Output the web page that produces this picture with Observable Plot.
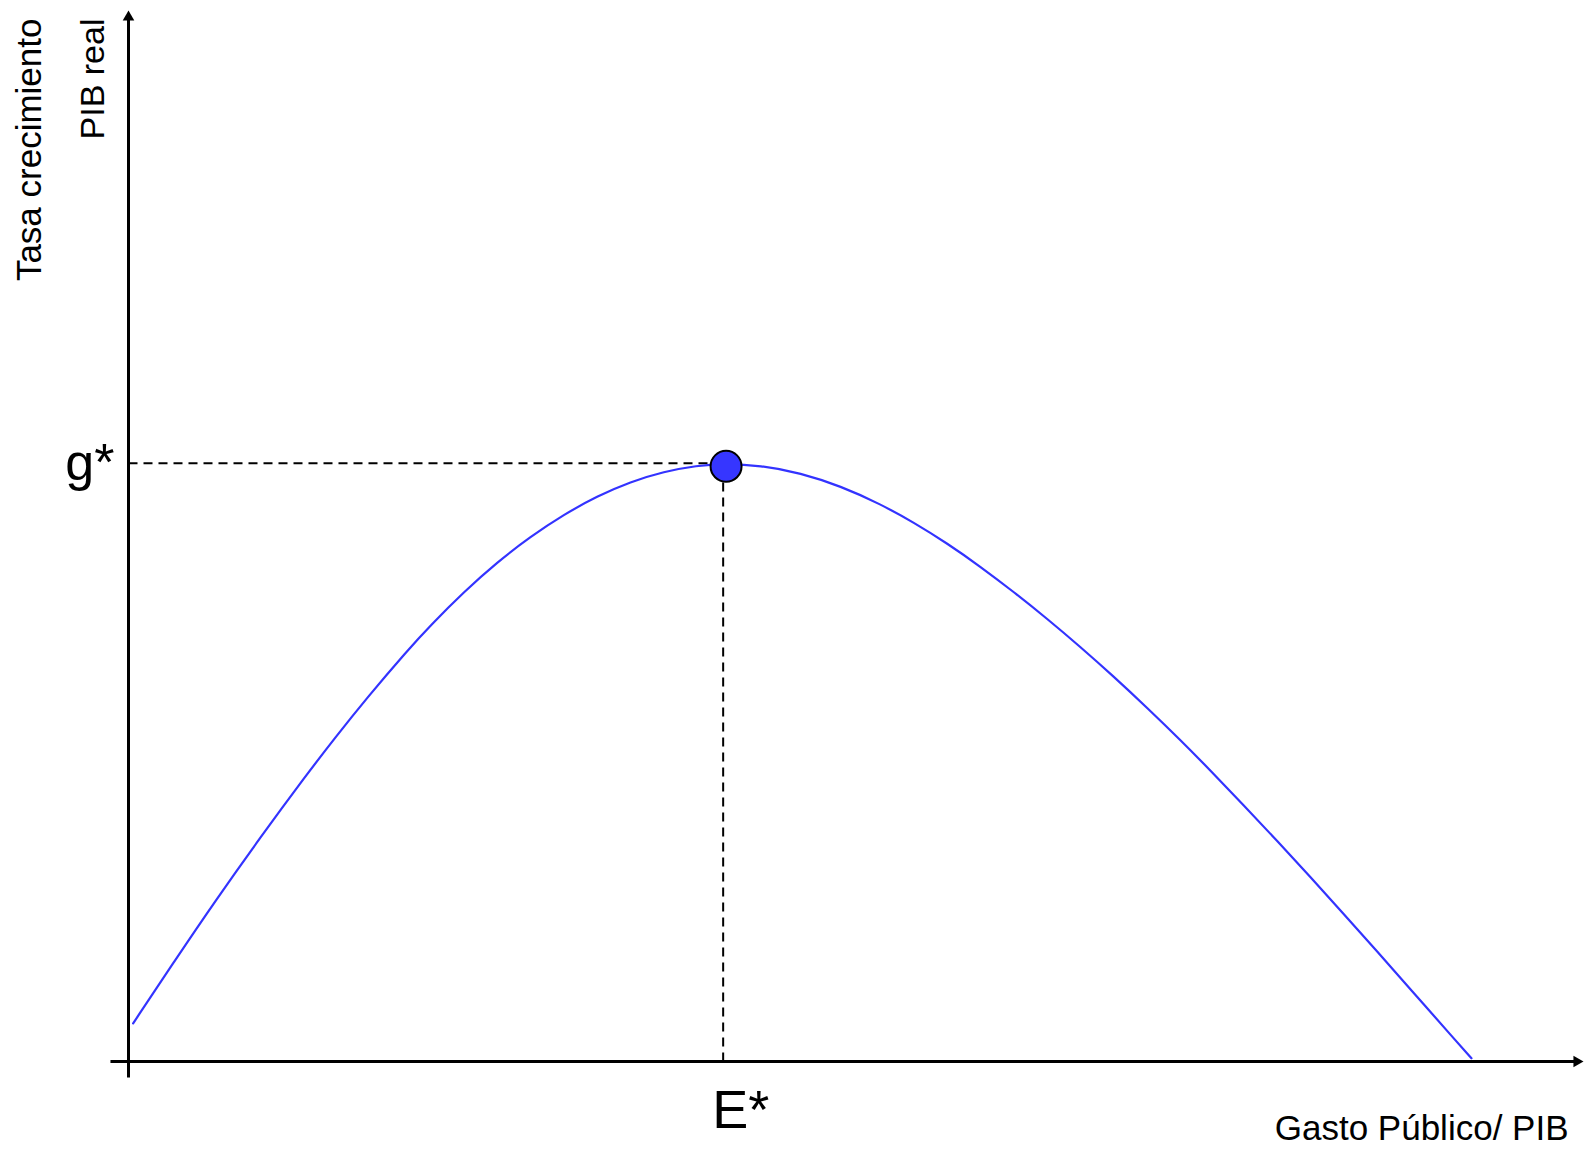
<!DOCTYPE html>
<html>
<head>
<meta charset="utf-8">
<script src="https://cdn.jsdelivr.net/npm/d3@7"></script>
<script src="https://cdn.jsdelivr.net/npm/@observablehq/plot@0.6"></script>
<style>
  html, body { margin: 0; padding: 0; background: #fff; overflow: hidden; }
  #chart svg { display: block; }
</style>
</head>
<body>
<div id="chart"></div>
<script>
// Curve: Gasto Público / PIB (x) vs Tasa crecimiento PIB real (y), arbitrary 0–100 units
const gasto = [0.32, 3.16, 5.98, 9.07, 12.28, 14.11, 16.41, 19.16, 20.76, 23.05, 25.34, 27.63, 29.92, 32.21, 34.50, 36.79, 39.09, 40.83,
               43.44, 46.19, 48.94, 51.68, 53.97, 56.27, 58.56, 60.85, 63.14, 65.43, 67.72, 70.01, 72.30, 74.36, 76.65, 78.95, 81.24, 83.53, 85.82, 88.11, 91.09, 92.30];
const crecimiento = [3.63, 9.56, 15.32, 21.34, 27.36, 30.66, 34.64, 39.10, 41.51, 44.68, 47.51, 49.94, 52.04, 53.79, 55.15, 56.13, 56.70, 56.87,
                     56.73, 56.00, 54.75, 53.04, 51.29, 49.30, 47.08, 44.67, 42.13, 39.44, 36.62, 33.66, 30.59, 27.69, 24.36, 20.99, 17.54, 14.02, 10.46, 6.88, 2.18, 0.31];

// Optimum
const eStar = 40.87;
const gStar = 56.93;
const optimumDot = [{x: 41.07, y: 56.63}];

// Labels
const labelG = "g*";
const labelE = "E*";
const labelX = "Gasto Público/ PIB";
const labelY1 = "Tasa crecimiento";
const labelY2 = "PIB real";

// Axis extents (data units)
const xAxisExtent = [-1.24, 100];
const yAxisExtent = [-1.52, 100];
const arrowHeads = [
  {x: 0, y: 99.37, rotate: 0},
  {x: 99.54, y: 0, rotate: 90}
];

const curve = gasto.map((g, i) => ({x: g, y: crecimiento[i]}));

const font = "Liberation Sans, Arial, Helvetica, sans-serif";

const chart = Plot.plot({
  width: 1585,
  height: 1151,
  marginLeft: 128,
  marginRight: 2,
  marginTop: 10,
  marginBottom: 90,
  x: {domain: [0, 100], axis: null},
  y: {domain: [0, 100], axis: null},
  style: {background: "#fff", fontFamily: font, overflow: "visible"},
  marks: [
    // dashed guides
    Plot.link([{x1: 0, y1: gStar, x2: eStar, y2: gStar}], {x1: "x1", y1: "y1", x2: "x2", y2: "y2", stroke: "#000", strokeWidth: 2, strokeDasharray: "9,6"}),
    Plot.link([{x1: eStar, y1: 0, x2: eStar, y2: gStar}], {x1: "x1", y1: "y1", x2: "x2", y2: "y2", stroke: "#000", strokeWidth: 2, strokeDasharray: "9,6"}),
    // axes
    Plot.link([{x1: xAxisExtent[0], y1: 0, x2: xAxisExtent[1] - 0.5, y2: 0}], {x1: "x1", y1: "y1", x2: "x2", y2: "y2", stroke: "#000", strokeWidth: 3}),
    Plot.link([{x1: 0, y1: yAxisExtent[0], x2: 0, y2: yAxisExtent[1] - 0.8}], {x1: "x1", y1: "y1", x2: "x2", y2: "y2", stroke: "#000", strokeWidth: 3}),
    Plot.dot(arrowHeads, {x: "x", y: "y", rotate: "rotate", symbol: "triangle", r: 4.3, fill: "#000", stroke: "none"}),
    // curve
    Plot.line(curve, {x: "x", y: "y", curve: "basis", stroke: "#3333ff", strokeWidth: 2.2}),
    // optimum point
    Plot.dot(optimumDot, {x: "x", y: "y", r: 15.5, fill: "#3636ff", stroke: "#000", strokeWidth: 2}),
    // labels
    Plot.text([labelG], {x: 0, y: gStar, text: d => d, textAnchor: "end", lineAnchor: "middle", dx: -14, fontSize: 52, fill: "#000"}),
    Plot.text([labelE], {x: eStar, y: 0, text: d => d, textAnchor: "start", lineAnchor: "top", dx: -11, dy: 28, fontSize: 54, fill: "#000"}),
    Plot.text([labelX], {x: 100, y: 0, text: d => d, textAnchor: "end", lineAnchor: "bottom", dx: -15, dy: 78, fontSize: 35, fill: "#000"}),
    Plot.text([labelY1], {frameAnchor: "top-left", text: d => d, rotate: -90, textAnchor: "end", lineAnchor: "bottom", dx: -88, dy: 8, fontSize: 35, fill: "#000"}),
    Plot.text([labelY2], {frameAnchor: "top-left", text: d => d, rotate: -90, textAnchor: "end", lineAnchor: "bottom", dx: -25, dy: 8, fontSize: 34, fill: "#000"})
  ]
});

document.getElementById("chart").appendChild(chart);
</script>
</body>
</html>
